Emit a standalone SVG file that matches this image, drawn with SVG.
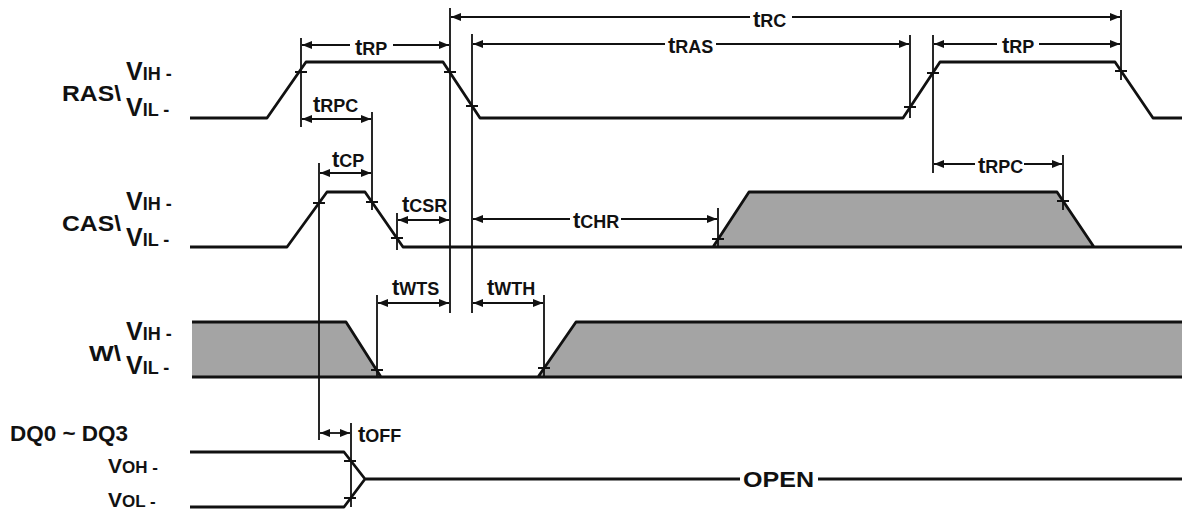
<svg xmlns="http://www.w3.org/2000/svg" width="1182" height="512" viewBox="0 0 1182 512">
<style>
.wave{fill:none;stroke:#111;stroke-width:2.8;stroke-linejoin:round}
.shade{fill:#a4a4a4;stroke:none}
.vl{stroke:#111;stroke-width:1.8;fill:none}
.dim{stroke:#111;stroke-width:1.8;fill:none;marker-end:url(#ah)}
.dim2{stroke:#111;stroke-width:1.8;fill:none;marker-start:url(#ah);marker-end:url(#ah)}
.tick{stroke:#111;stroke-width:1.8}
text{font-family:"Liberation Sans",Arial,sans-serif;font-weight:bold;fill:#111}
.sig{font-size:22px}
.vb{font-size:25px}
.vs{font-size:18px}
.vb2{font-size:21px}
.vs2{font-size:17px}
.t{font-size:22px}
.ts{font-size:18px}
.open{font-size:22px}
</style>
<defs>
<marker id="ah" markerUnits="userSpaceOnUse" markerWidth="11" markerHeight="8" refX="10" refY="4" orient="auto-start-reverse">
<path d="M0,0 L10,4 L0,8 z" fill="#111"/>
</marker>
</defs>
<rect width="1182" height="512" fill="#fff"/>

<g id="labels">
<text class="sig" x="62" y="101" textLength="59" lengthAdjust="spacingAndGlyphs">RAS\</text>
<text x="126" y="80"><tspan class="vb">V</tspan><tspan class="vs">IH -</tspan></text>
<text x="126" y="116"><tspan class="vb">V</tspan><tspan class="vs">IL -</tspan></text>
<text class="sig" x="62" y="231" textLength="59" lengthAdjust="spacingAndGlyphs">CAS\</text>
<text x="126" y="210"><tspan class="vb">V</tspan><tspan class="vs">IH -</tspan></text>
<text x="126" y="246"><tspan class="vb">V</tspan><tspan class="vs">IL -</tspan></text>
<text class="sig" x="89" y="361" textLength="32" lengthAdjust="spacingAndGlyphs">W\</text>
<text x="126" y="340"><tspan class="vb">V</tspan><tspan class="vs">IH -</tspan></text>
<text x="126" y="374"><tspan class="vb">V</tspan><tspan class="vs">IL -</tspan></text>
<text class="sig" x="10" y="441" font-size="20" textLength="118" lengthAdjust="spacingAndGlyphs">DQ0 ~ DQ3</text>
<text x="108" y="473"><tspan class="vb2">V</tspan><tspan class="vs2">OH -</tspan></text>
<text x="108" y="507"><tspan class="vb2">V</tspan><tspan class="vs2">OL -</tspan></text>
</g>

<g id="waveforms">
<path class="shade" d="M713,247 L749,192 L1057,192 L1094,247 Z"/>
<path class="shade" d="M192,322 L346,322 L381,377 L192,377 Z"/>
<path class="shade" d="M538,377 L576,322 L1182,322 L1182,377 Z"/>
<path id="ras" class="wave" d="M190,118 L267,118 L306,62 L443,62 L480,118 L903,118 L940,62 L1115,62 L1153,118 L1182,118"/>
<path id="cas" class="wave" d="M190,247 L287,247 L327,192 L365,192 L403,247 L1182,247 M713,247 L749,192 L1057,192 L1094,247"/>
<path id="w" class="wave" d="M192,322 L346,322 L381,377 M192,377 L1182,377 M538,377 L576,322 L1182,322"/>
<path id="dq" class="wave" d="M190,452 L344,452 L365,479 L740,479 M818,479 L1182,479 M190,507 L344,507 L365,479"/>
<text class="open" x="743" y="487" textLength="71" lengthAdjust="spacingAndGlyphs">OPEN</text>
</g>

<g id="connectors">
<path class="vl" d="M301,38 V127 M450,8 V313 M472,34 V313 M910,35 V118 M933,35 V173 M1121,10 V80 M372,112 V210 M319,163 V440 M397,213 V250 M718,208 V247 M1063,155 V210 M377,295 V377 M544,295 V377 M351,423 V507"/>
<path class="tick" d="M295,72 H307 M444,72 H456 M466,106 H478 M904,107 H916 M927,73 H939 M1115,71 H1127 M313,203 H325 M366,202 H378 M391,238 H403 M712,239 H724 M1057,201 H1069 M371,370 H383 M538,368 H550 M344,461 H356 M344,498 H356"/>
<path class="dim" d="M350,45 H302"/><path class="dim" d="M393,45 H449"/>
<path class="dim" d="M750,17 H451"/><path class="dim" d="M792,17 H1120"/>
<path class="dim" d="M665,44 H473"/><path class="dim" d="M716,44 H909"/>
<path class="dim" d="M997,44 H934"/><path class="dim" d="M1039,44 H1120"/>
<path class="dim2" d="M302,119 H371"/>
<path class="dim2" d="M320,173 H371"/>
<path class="dim2" d="M398,220 H449"/>
<path class="dim" d="M570,219 H473"/><path class="dim" d="M621,219 H717"/>
<path class="dim" d="M975,164 H934"/><path class="dim" d="M1024,164 H1062"/>
<path class="dim2" d="M378,303 H449"/>
<path class="dim2" d="M473,303 H543"/>
<path class="dim2" d="M320,433 H350"/>
</g>

<g id="timing-labels">
<text x="355" y="55"><tspan class="t">t</tspan><tspan class="ts">RP</tspan></text>
<text x="753" y="27"><tspan class="t">t</tspan><tspan class="ts">RC</tspan></text>
<text x="668" y="53"><tspan class="t">t</tspan><tspan class="ts">RAS</tspan></text>
<text x="1002" y="53"><tspan class="t">t</tspan><tspan class="ts">RP</tspan></text>
<text x="313" y="112"><tspan class="t">t</tspan><tspan class="ts">RPC</tspan></text>
<text x="332" y="167"><tspan class="t">t</tspan><tspan class="ts">CP</tspan></text>
<text x="402" y="212"><tspan class="t">t</tspan><tspan class="ts">CSR</tspan></text>
<text x="573" y="228"><tspan class="t">t</tspan><tspan class="ts">CHR</tspan></text>
<text x="978" y="173"><tspan class="t">t</tspan><tspan class="ts">RPC</tspan></text>
<text x="392" y="295"><tspan class="t">t</tspan><tspan class="ts">WTS</tspan></text>
<text x="487" y="295"><tspan class="t">t</tspan><tspan class="ts">WTH</tspan></text>
<text x="358" y="442"><tspan class="t">t</tspan><tspan class="ts">OFF</tspan></text>
</g>
</svg>
